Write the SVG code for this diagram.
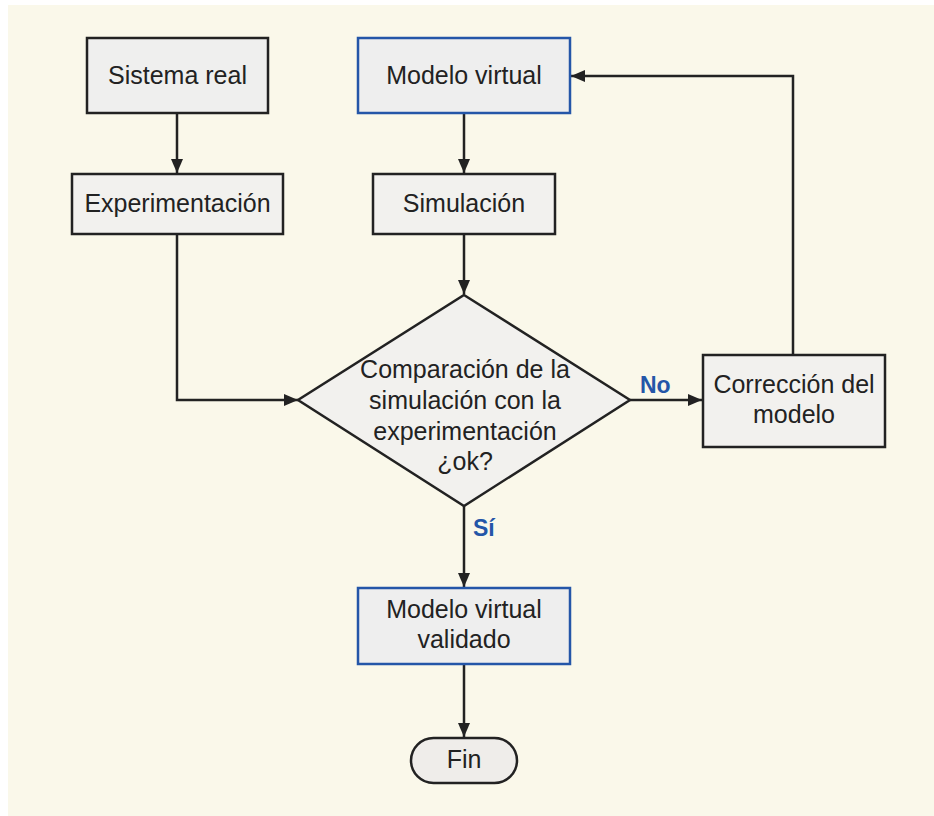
<svg xmlns="http://www.w3.org/2000/svg" width="934" height="816" viewBox="0 0 934 816">
  <style>
    .box { fill: #EFEFEE; stroke: #222; stroke-width: 2.5; }
    .box.blue { stroke: #2456A8; fill: #EEEEEE; }
    .lbl { font-family: "Liberation Sans", Arial, sans-serif; font-size: 25px; fill: #222; text-anchor: middle; }
    .tag { font-family: "Liberation Sans", Arial, sans-serif; font-size: 23px; font-weight: bold; fill: #2456A8; }
    .wire { fill: none; stroke: #222; stroke-width: 2.5; }
  </style>
  <defs>
    <marker id="arrow" viewBox="0 0 14 12" refX="14" refY="6" markerWidth="14" markerHeight="12" markerUnits="userSpaceOnUse" orient="auto">
      <path d="M0,0 L14,6 L0,12 Z" fill="#222"/>
    </marker>
  </defs>

  <rect x="8" y="5" width="926" height="811" fill="#FAF8EA"/>

  <g id="connectors">
    <path class="wire" d="M177,113 V173" marker-end="url(#arrow)"/>
    <path class="wire" d="M464,113 V173" marker-end="url(#arrow)"/>
    <path class="wire" d="M464,234 V294" marker-end="url(#arrow)"/>
    <path class="wire" d="M177,234 V400 H298" marker-end="url(#arrow)"/>
    <path class="wire" d="M630,400 H702" marker-end="url(#arrow)"/>
    <path class="wire" d="M793,355 V76 H571" marker-end="url(#arrow)"/>
    <path class="wire" d="M464,506 V587" marker-end="url(#arrow)"/>
    <path class="wire" d="M464,664 V737" marker-end="url(#arrow)"/>
    <text class="tag" x="640" y="393">No</text>
    <text class="tag" x="473" y="536">Sí</text>
  </g>

  <g id="sistema-real">
    <rect class="box" x="87" y="38" width="181" height="75"/>
    <text class="lbl" x="177.5" y="84">Sistema real</text>
  </g>

  <g id="experimentacion">
    <rect class="box" x="72" y="174" width="211" height="60" style="fill:#F2F1EE"/>
    <text class="lbl" x="177.5" y="212">Experimentación</text>
  </g>

  <g id="modelo-virtual">
    <rect class="box blue" x="358" y="38" width="212" height="75"/>
    <text class="lbl" x="464" y="84">Modelo virtual</text>
  </g>

  <g id="simulacion">
    <rect class="box" x="373" y="174" width="182" height="60" style="fill:#F2F1EE"/>
    <text class="lbl" x="464" y="212">Simulación</text>
  </g>

  <g id="comparacion">
    <polygon class="box" points="464,295 630,400 464,506 298,400" style="fill:#F2F1EE"/>
    <text class="lbl" x="465" y="378">Comparación de la</text>
    <text class="lbl" x="465" y="409">simulación con la</text>
    <text class="lbl" x="465" y="440">experimentación</text>
    <text class="lbl" x="465" y="470">¿ok?</text>
  </g>

  <g id="correccion">
    <rect class="box" x="703" y="355" width="182" height="92" style="fill:#F2F1EE"/>
    <text class="lbl" x="794" y="393">Corrección del</text>
    <text class="lbl" x="794" y="423">modelo</text>
  </g>

  <g id="modelo-validado">
    <rect class="box blue" x="358" y="588" width="212" height="76"/>
    <text class="lbl" x="464" y="618">Modelo virtual</text>
    <text class="lbl" x="464" y="648">validado</text>
  </g>

  <g id="fin">
    <rect class="box" x="411" y="738" width="106" height="45" rx="22.5" style="fill:#EFEDEA"/>
    <text class="lbl" x="464" y="768">Fin</text>
  </g>
</svg>
